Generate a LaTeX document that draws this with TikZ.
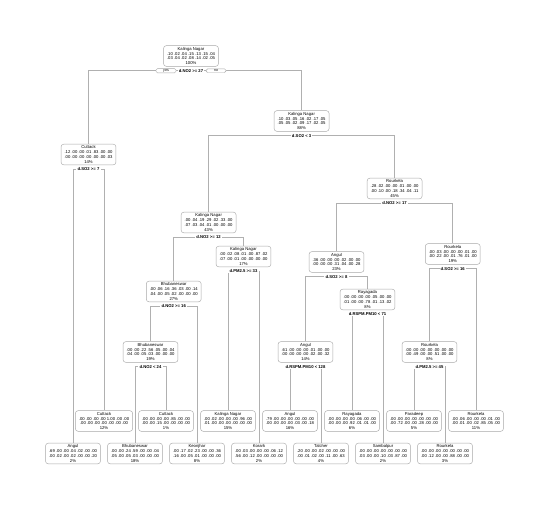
\documentclass[tikz,border=0pt]{standalone}
\usepackage{fontspec}
\setmainfont{Liberation Sans}
\usetikzlibrary{backgrounds}
\definecolor{boxgray}{HTML}{A8A8A8}
\definecolor{linegray}{HTML}{B0B0B0}
\newcommand{\nd}[4]{#1\\#2\\#3\\#4}
\newcommand{\mysplit}[4]{%
  \node[splitlbl] (s#1) at ([yshift=-4.2pt]#1.south) {#4};
  \begin{scope}[on background layer]
    \draw[branch] (#2.north) |- (s#1.center) -| (#3.north);
  \end{scope}
}
\begin{document}
\begin{tikzpicture}[x=1pt,y=-1pt,
  tnode/.style={draw=boxgray, rounded corners=2.6pt, fill=white, align=center,
    inner xsep=3.5pt, inner ysep=1.4pt, line width=0.45pt,
    font=\fontsize{4.2}{4.9}\selectfont},
  splitlbl/.style={fill=white, inner xsep=1.2pt, inner ysep=0.5pt,
    font=\fontsize{4.2}{4.9}\selectfont\bfseries},
  yesno/.style={draw=boxgray, rounded corners=1.5pt, fill=white, minimum width=20pt,
    inner ysep=0.8pt, line width=0.45pt, font=\fontsize{3.6}{4}\selectfont},
  branch/.style={draw=linegray, line width=0.55pt}]
\begin{scope}[on background layer]
  \fill[white] (0,0) rectangle (551,509);
\end{scope}
\useasboundingbox (0,0) rectangle (551,509);

% internal nodes
\node[tnode] (root) at (191,56) {\nd{Kalinga Nagar}{.10 .02 .04 .15 .13 .15 .04}{.03 .04 .02 .08 .14 .02 .05}{100\%}};
\node[tnode] (kn2) at (301.6,121) {\nd{Kalinga Nagar}{.10 .03 .05 .16 .02 .17 .05}{.05 .05 .02 .09 .17 .02 .05}{88\%}};
\node[tnode] (cut) at (88.5,154.5) {\nd{Cuttack}{.12 .00 .00 .01 .83 .00 .00}{.00 .00 .00 .00 .00 .00 .03}{14\%}};
\node[tnode] (rou) at (394.6,188.5) {\nd{Rourkela}{.28 .02 .00 .00 .01 .00 .00}{.00 .10 .00 .18 .34 .04 .11}{45\%}};
\node[tnode] (kn3) at (208.6,222.5) {\nd{Kalinga Nagar}{.00 .04 .19 .29 .02 .33 .00}{.07 .03 .04 .01 .00 .00 .00}{43\%}};
\node[tnode] (kn4) at (243.5,256.5) {\nd{Kalinga Nagar}{.00 .02 .08 .01 .00 .87 .02}{.07 .00 .01 .00 .00 .00 .00}{17\%}};
\node[tnode] (roui) at (452.75,254) {\nd{Rourkela}{.00 .03 .00 .00 .00 .01 .00}{.00 .22 .00 .01 .76 .01 .00}{19\%}};
\node[tnode] (ang) at (336.5,262) {\nd{Angul}{.36 .00 .00 .00 .02 .00 .00}{.00 .00 .00 .31 .04 .00 .28}{23\%}};
\node[tnode] (bhu) at (173.75,291.5) {\nd{Bhubaneswar}{.00 .06 .16 .36 .03 .00 .14}{.04 .00 .05 .02 .00 .00 .00}{27\%}};
\node[tnode] (ray) at (367.5,299.5) {\nd{Rayagada}{.00 .00 .00 .00 .05 .00 .00}{.01 .00 .00 .78 .01 .13 .02}{8\%}};
\node[tnode] (bhu2) at (150.5,352) {\nd{Bhubaneswar}{.00 .00 .22 .56 .05 .00 .04}{.04 .00 .05 .03 .00 .00 .00}{19\%}};
\node[tnode] (ang2) at (305.5,352) {\nd{Angul}{.61 .00 .00 .00 .01 .00 .00}{.00 .00 .00 .00 .02 .00 .32}{14\%}};
\node[tnode] (rou2) at (429.5,352) {\nd{Rourkela}{.00 .00 .00 .00 .00 .00 .00}{.00 .49 .00 .00 .51 .00 .00}{8\%}};

% leaves, upper row
\node[tnode] (l1) at (104,421) {\nd{Cuttack}{.00 .00 .00 .00 1.00 .00 .00}{.00 .00 .00 .00 .00 .00 .00}{12\%}};
\node[tnode] (l3) at (166,421) {\nd{Cuttack}{.00 .00 .00 .00 .85 .00 .00}{.00 .00 .15 .00 .00 .00 .00}{1\%}};
\node[tnode] (l5) at (228,421) {\nd{Kalinga Nagar}{.00 .02 .00 .00 .00 .96 .00}{.01 .00 .00 .00 .00 .00 .00}{15\%}};
\node[tnode] (l7) at (290,421) {\nd{Angul}{.79 .00 .00 .00 .00 .00 .00}{.00 .00 .00 .00 .03 .00 .18}{16\%}};
\node[tnode] (l9) at (352,421) {\nd{Rayagada}{.00 .00 .00 .00 .06 .00 .00}{.00 .00 .00 .92 .01 .01 .00}{6\%}};
\node[tnode] (l11) at (414,421) {\nd{Paradeep}{.00 .00 .00 .00 .00 .00 .00}{.00 .72 .00 .00 .28 .00 .00}{5\%}};
\node[tnode] (l13) at (476,421) {\nd{Rourkela}{.00 .06 .00 .00 .00 .01 .00}{.00 .01 .00 .02 .85 .05 .00}{11\%}};
% leaves, lower row
\node[tnode] (l0) at (73,453.5) {\nd{Angul}{.69 .00 .00 .04 .02 .00 .00}{.00 .02 .00 .02 .00 .00 .20}{2\%}};
\node[tnode] (l2) at (135,453.5) {\nd{Bhubaneswar}{.00 .00 .24 .59 .00 .00 .04}{.05 .00 .05 .03 .00 .00 .00}{18\%}};
\node[tnode] (l4) at (197,453.5) {\nd{Keonjhar}{.00 .17 .02 .23 .00 .00 .36}{.16 .00 .05 .01 .00 .00 .00}{8\%}};
\node[tnode] (l6) at (259,453.5) {\nd{Korark}{.00 .03 .00 .00 .00 .06 .12}{.56 .00 .12 .00 .00 .00 .00}{2\%}};
\node[tnode] (l8) at (321,453.5) {\nd{Talcher}{.20 .00 .00 .02 .00 .00 .00}{.00 .01 .02 .00 .11 .00 .63}{4\%}};
\node[tnode] (l10) at (383,453.5) {\nd{Sambalpur}{.00 .00 .00 .00 .00 .00 .00}{.03 .00 .00 .10 .03 .87 .00}{2\%}};
\node[tnode] (l12) at (445,453.5) {\nd{Rourkela}{.00 .00 .00 .00 .00 .00 .00}{.00 .12 .00 .00 .88 .00 .00}{3\%}};

% root split with yes / no
\node[splitlbl] (sroot) at ([yshift=-4.2pt]root.south) {d.NO2 >= 27};
\node[yesno] (yes) at ([xshift=-25pt]sroot.center) {yes};
\node[yesno] (no) at ([xshift=25pt]sroot.center) {no};
\begin{scope}[on background layer]
  \draw[branch] (cut.north) |- (sroot.center) -| (kn2.north);
\end{scope}

% other splits
\mysplit{cut}{l0}{l1}{d.SO2 >= 7}
\mysplit{kn2}{kn3}{rou}{d.SO2 < 3}
\mysplit{kn3}{bhu}{kn4}{d.NO2 >= 12}
\mysplit{bhu}{bhu2}{l4}{d.NO2 >= 16}
\mysplit{bhu2}{l2}{l3}{d.NO2 < 24}
\mysplit{kn4}{l5}{l6}{d.PM2.5 >= 33}
\mysplit{rou}{ang}{roui}{d.NO2 >= 17}
\mysplit{ang}{ang2}{ray}{d.SO2 >= 8}
\mysplit{ang2}{l7}{l8}{d.RSPM.PM10 < 128}
\mysplit{ray}{l9}{l10}{d.RSPM.PM10 < 71}
\mysplit{roui}{rou2}{l13}{d.SO2 >= 16}
\mysplit{rou2}{l11}{l12}{d.PM2.5 >= 45}
\end{tikzpicture}
\end{document}
